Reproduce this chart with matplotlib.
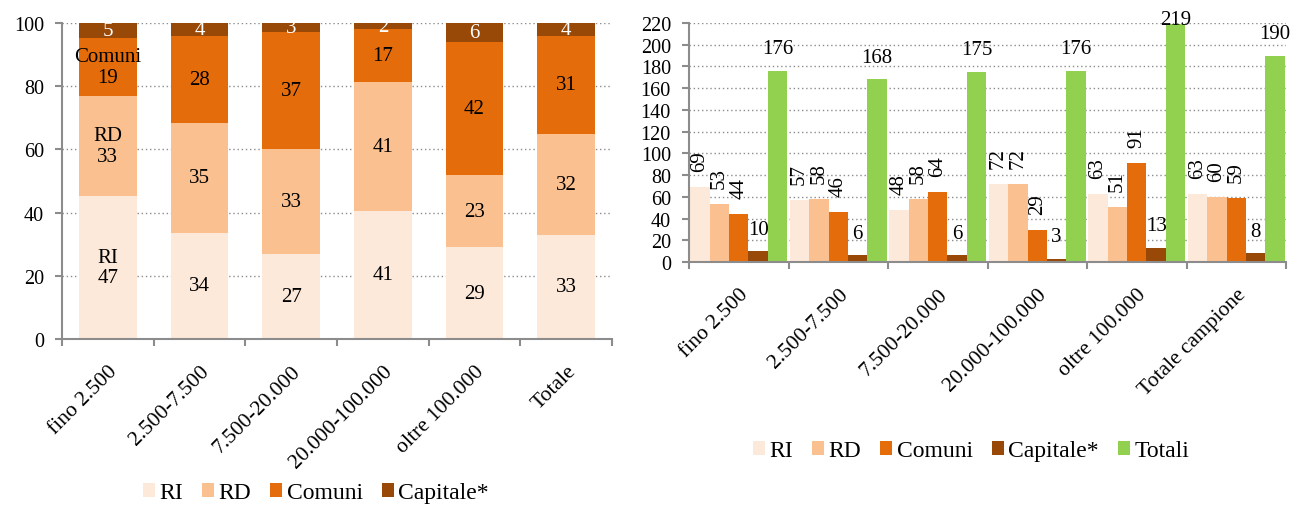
import numpy as np
import matplotlib
matplotlib.use("Agg")
import matplotlib.pyplot as plt
from matplotlib.patches import Patch

plt.rcParams['font.family'] = ['Liberation Serif', 'DejaVu Serif']

# Size classes of the municipalities
classes_left = ["fino 2.500", "2.500-7.500", "7.500-20.000", "20.000-100.000",
                "oltre 100.000", "Totale"]
classes_right = ["fino 2.500", "2.500-7.500", "7.500-20.000", "20.000-100.000",
                 "oltre 100.000", "Totale campione"]
series_names = ["RI", "RD", "Comuni", "Capitale*"]

# Percentage composition (left panel)
pct_ri = [47, 34, 27, 41, 29, 33]
pct_rd = [33, 35, 33, 41, 23, 32]
pct_comuni = [19, 28, 37, 17, 42, 31]
pct_capitale = [5, 4, 3, 2, 6, 4]

# Absolute counts (right panel)
n_ri = [69, 57, 48, 72, 63, 63]
n_rd = [53, 58, 58, 72, 51, 60]
n_comuni = [44, 46, 64, 29, 91, 59]
n_capitale = [10, 6, 6, 3, 13, 8]
n_totali = [176, 168, 175, 176, 219, 190]

colors = ["#FDE9D9", "#FAC090", "#E46C0A", "#984807", "#92D050"]
axis_grey = "#8C8C8C"
FS_YTICK = 14.5
FS_XTICK = 15.5
FS_LABEL = 15
FS_LEG = 17

fig = plt.figure(figsize=(12.92, 5.06), dpi=100)
ax1 = fig.add_axes([62 / 1292, 1 - 340 / 506, 550 / 1292, 316 / 506])
ax2 = fig.add_axes([689 / 1292, 1 - 263 / 506, 597 / 1292, 239 / 506])


def style_axes(ax, ymax, ystep):
    ax.set_xlim(-0.5, 5.5)
    ax.set_ylim(0, ymax)
    ax.set_yticks(np.arange(0, ymax + 1, ystep))
    for s in ("top", "right"):
        ax.spines[s].set_visible(False)
    for s in ("left", "bottom"):
        ax.spines[s].set_color(axis_grey)
        ax.spines[s].set_linewidth(1.5)
    ax.set_axisbelow(True)
    ax.yaxis.grid(True, linestyle=(0, (1, 2)), color=axis_grey, linewidth=1.0)
    ax.tick_params(axis="y", direction="out", length=5, width=1.5,
                   color=axis_grey, labelsize=FS_YTICK, pad=8)
    ax.set_xticks(np.arange(-0.5, 6, 1), minor=True)
    ax.tick_params(axis="x", which="minor", direction="out", length=5,
                   width=1.5, color=axis_grey)
    ax.tick_params(axis="x", which="major", length=0, labelsize=FS_XTICK,
                   pad=16)


# ---- left panel: 100% stacked composition ----
pct = np.array([pct_ri, pct_rd, pct_comuni, pct_capitale], dtype=float)
share = pct / pct.sum(axis=0) * 100
x = np.arange(len(classes_left))
bottom = np.zeros(len(x))
for k in range(4):
    ax1.bar(x, share[k], 0.63, bottom=bottom, color=colors[k], linewidth=0)
    for i in range(len(x)):
        txt = f"{pct[k, i]:.0f}"
        if i == 0 and k < 3:
            txt = f"{series_names[k]}\n{txt}"
        ax1.text(x[i], bottom[i] + share[k, i] / 2, txt, ha="center",
                 va="center", fontsize=FS_LABEL, linespacing=1.1,
                 color="white" if k == 3 else "black")
    bottom += share[k]

style_axes(ax1, 100, 20)
ax1.set_xticks(x)
ax1.set_xticklabels(classes_left, rotation=45, ha="right",
                    rotation_mode="anchor")

# ---- right panel: grouped counts ----
counts = [n_ri, n_rd, n_comuni, n_capitale, n_totali]
w = 0.195
style_axes(ax2, 220, 20)
fig.canvas.draw()
top_disp = ax2.transData.transform((0, 220))[1]
for k, vals in enumerate(counts):
    xs = x + (k - 2) * w
    ax2.bar(xs, vals, w, color=colors[k], linewidth=0)
    for xi, v in zip(xs, vals):
        if k < 3:
            ax2.annotate(f"{v}", (xi, v), xytext=(0, 16),
                         textcoords="offset pixels", rotation=90,
                         ha="center", va="bottom", fontsize=FS_LABEL)
        else:
            v_disp = ax2.transData.transform((xi, v))[1]
            off = min(22, top_disp + 3 - v_disp)
            ax2.annotate(f"{v}", (xi, v), xytext=(0, off),
                         textcoords="offset pixels", ha="center",
                         va="center", fontsize=FS_LABEL)

ax2.set_xticks(x)
ax2.set_xticklabels(classes_right, rotation=45, ha="right",
                    rotation_mode="anchor")

# ---- legends ----
h4 = [Patch(facecolor=c) for c in colors[:4]]
fig.legend(h4, series_names, loc="center", bbox_to_anchor=(316 / 1292, 1 - 494 / 506),
           ncol=4, frameon=False, fontsize=FS_LEG, handlelength=0.5,
           handleheight=0.5, handletextpad=0.2, columnspacing=0.8,
           borderpad=0, borderaxespad=0)
h5 = [Patch(facecolor=c) for c in colors]
fig.legend(h5, series_names + ["Totali"], loc="center",
           bbox_to_anchor=(971 / 1292, 1 - 452 / 506),
           ncol=5, frameon=False, fontsize=FS_LEG, handlelength=0.5,
           handleheight=0.5, handletextpad=0.2, columnspacing=0.8,
           borderpad=0, borderaxespad=0)

fig.savefig("out.png", dpi=100)
